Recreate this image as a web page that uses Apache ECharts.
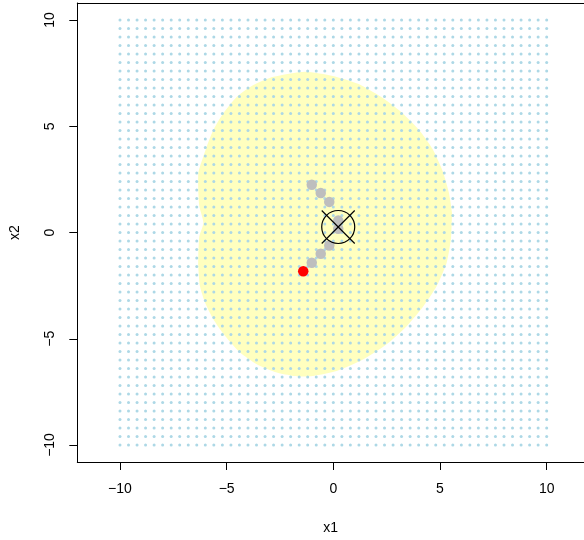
<!DOCTYPE html>
<html><head><meta charset="utf-8">
<script src="https://cdn.jsdelivr.net/npm/echarts@6/dist/echarts.min.js"></script>
<style>html,body{margin:0;padding:0;background:#fff}#c{width:584px;height:540px}</style>
</head><body><div id="c"></div>
<script>
// Evaluation grid (x1 and x2 share the same sequence)
const gridSeq = [-10,-9.6,-9.2,-8.8,-8.4,-8,-7.6,-7.2,-6.8,-6.4,-6,-5.6,-5.2,-4.8,-4.4,-4,-3.6,-3.2,-2.8,-2.4,-2,-1.6,-1.2,-0.8,-0.4,0,0.4,0.8,1.2,1.6,2,2.4,2.8,3.2,3.6,4,4.4,4.8,5.2,5.6,6,6.4,6.8,7.2,7.6,8,8.4,8.8,9.2,9.6,10];
const tickValues = [-10,-5,0,5,10];
// Outline of the yellow region
const regionX = [-1.33,-0.02,1.16,2.23,3.17,4.01,4.67,5.14,5.42,5.56,5.55,5.51,5.31,4.84,4.22,3.44,2.50,1.41,0.16,-0.94,-1.40,-1.87,-2.65,-3.59,-4.37,-5.07,-5.62,-6.01,-6.25,-6.33,-6.33,-6.28,-6.09,-6.28,-6.33,-6.33,-6.25,-5.93,-5.62,-5.15,-4.52,-3.75,-2.81];
const regionY = [7.57,7.37,7.00,6.39,5.68,4.83,3.89,2.85,1.86,0.94,0.45,-0.33,-1.43,-2.53,-3.47,-4.41,-5.26,-5.97,-6.52,-6.75,-6.78,-6.75,-6.59,-6.20,-5.65,-4.87,-4.09,-3.31,-2.53,-1.59,-1.12,-0.18,0.45,1.23,2.00,2.80,3.11,4.05,4.83,5.62,6.39,6.94,7.33];
// Path points (grey)
const pathX = [-1.01,-0.59,-0.19,0.23,0.23,-0.19,-0.59,-1.01];
const pathY = [2.25,1.86,1.44,0.56,0.18,-0.61,-1.00,-1.42];
// Start point (red)
const startX = [-1.41];
const startY = [-1.82];
// Optimum marker
const optX = [0.23];
const optY = [0.26];

const gridData = [];
gridSeq.forEach(x => gridSeq.forEach(y => gridData.push([x, y])));
const regionData = regionX.map((x, i) => [x, regionY[i]]);
const pathData = pathX.map((x, i) => [x, pathY[i]]);
const startData = startX.map((x, i) => [x, startY[i]]);
const optData = optX.map((x, i) => [x, optY[i]]);

const fmt = v => String(v).replace('-', '\u2212');
const font = 'Liberation Sans, Arial, Helvetica, sans-serif';
const X_MIN = -12, X_MAX = 11.75;

const chart = echarts.init(document.getElementById('c'), null, {renderer: 'canvas'});
chart.setOption({
  animation: false,
  backgroundColor: '#fff',
  grid: {left: 77.3, right: 0, top: 3, bottom: 77.7, show: false, containLabel: false},
  xAxis: [{
    type: 'value', min: X_MIN, max: X_MAX,
    splitLine: {show: false},
    axisLine: {show: true, onZero: false, lineStyle: {color: '#000', width: 1}},
    axisTick: {show: true, customValues: tickValues, length: 8, lineStyle: {color: '#000'}},
    axisLabel: {customValues: tickValues, formatter: fmt, fontSize: 14, color: '#000', margin: 20, fontFamily: font},
    name: 'x1', nameLocation: 'middle', nameGap: 59,
    nameTextStyle: {fontSize: 14, color: '#000', fontFamily: font}
  }, {
    type: 'value', min: X_MIN, max: X_MAX, position: 'top',
    splitLine: {show: false},
    axisLine: {show: true, onZero: false, lineStyle: {color: '#000', width: 1}},
    axisTick: {show: false}, axisLabel: {show: false}
  }],
  yAxis: {
    type: 'value', min: -10.8, max: 10.8,
    splitLine: {show: false},
    axisLine: {show: true, onZero: false, lineStyle: {color: '#000', width: 1}},
    axisTick: {show: true, customValues: tickValues, length: 8, lineStyle: {color: '#000'}},
    axisLabel: {customValues: tickValues, formatter: fmt, fontSize: 14, color: '#000', margin: 20, rotate: 90, fontFamily: font},
    name: 'x2', nameLocation: 'middle', nameGap: 55,
    nameTextStyle: {fontSize: 14, color: '#000', fontFamily: font}
  },
  series: [
    {
      type: 'custom', data: regionData, silent: true, z: 1,
      renderItem: function (params, api) {
        if (params.dataIndex !== 0) return null;
        const pts = regionData.map(d => api.coord(d));
        return {type: 'polygon', shape: {points: pts, smooth: 0.2}, style: {fill: '#FFFFBF', stroke: null}};
      }
    },
    {
      type: 'scatter', data: gridData, symbol: 'circle', symbolSize: 3, silent: true, z: 2, large: false,
      itemStyle: {color: '#ADD8E6', opacity: 1}
    },
    {
      type: 'scatter', data: pathData, symbol: 'circle', symbolSize: 10.5, silent: true, zlevel: 1, z: 3,
      itemStyle: {color: '#BEBEBE', opacity: 1}
    },
    {
      type: 'scatter', data: startData, symbol: 'circle', symbolSize: 10.5, silent: true, zlevel: 1, z: 4,
      itemStyle: {color: '#FF0000', opacity: 1}
    },
    {
      type: 'custom', data: optData, silent: true, zlevel: 1, z: 5,
      renderItem: function (params, api) {
        const p = api.coord([api.value(0), api.value(1)]);
        const r = 16.5;
        const st = {stroke: '#000', lineWidth: 1.2, fill: 'none'};
        return {type: 'group', children: [
          {type: 'circle', shape: {cx: p[0], cy: p[1], r: r}, style: st},
          {type: 'line', shape: {x1: p[0]-r, y1: p[1]-r, x2: p[0]+r, y2: p[1]+r}, style: st},
          {type: 'line', shape: {x1: p[0]-r, y1: p[1]+r, x2: p[0]+r, y2: p[1]-r}, style: st}
        ]};
      }
    }
  ]
});
</script></body></html>
